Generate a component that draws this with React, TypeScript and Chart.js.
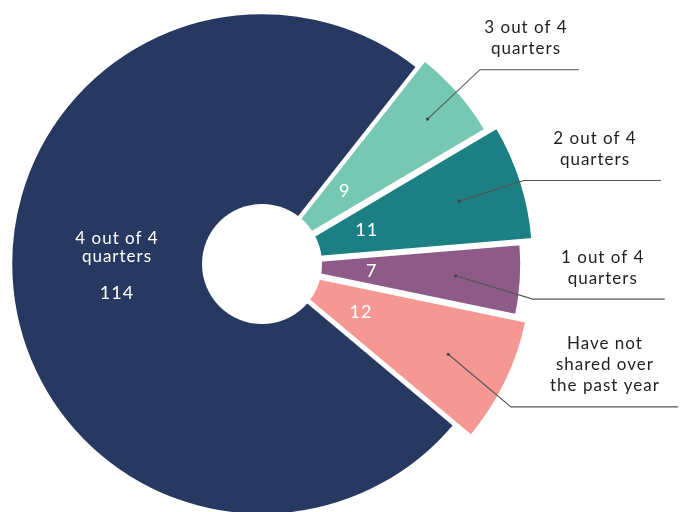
import React, { useEffect, useRef } from "react";
import { Chart, registerables } from "chart.js";

Chart.register(...registerables);

// ---- data ----
const categories = [
  "3 out of 4 quarters",
  "2 out of 4 quarters",
  "1 out of 4 quarters",
  "Have not shared over the past year",
  "4 out of 4 quarters",
];
const labelLines = [
  ["3 out of 4", "quarters"],
  ["2 out of 4", "quarters"],
  ["1 out of 4", "quarters"],
  ["Have not", "shared over", "the past year"],
  ["4 out of 4", "quarters"],
];
const counts = [9, 11, 7, 12, 114];

// ---- styles ----
const sliceColors = ["#76C8B2", "#1C7F84", "#8E5B88", "#F59793", "#273961"];
const sliceGrow = [0, 11, -1.5, 10, 0]; // extra outer radius per slice (px)
const sliceExplode = [10, 10, 10, 10, 0]; // outward shift per slice (px)
const HOLE_R = 60;
const FONT = "Lato, 'Open Sans', sans-serif";
const calloutLayout = [
  { dotR: 220, elbowR: 292, elbowDeg: -0.5, lineLen: 99, textDx: 46 },
  { dotR: 207, elbowR: 275, elbowDeg: 0, lineLen: 137, textDx: 71 },
  { dotR: 194, elbowR: 273, elbowDeg: 3.9, lineLen: 132, textDx: 70 },
  { dotR: 207, elbowR: 287, elbowDeg: 4, lineLen: 167, textDx: 94 },
];

const sliceShape = {
  id: "sliceShape",
  afterDatasetUpdate(chart: any, args: any) {
    const meta = args.meta;
    const ctrl = meta.controller;
    const base = ctrl.outerRadius;
    const ca = chart.chartArea;
    const cx = (ca.left + ca.right) / 2 + (ctrl.offsetX || 0);
    const cy = (ca.top + ca.bottom) / 2 + (ctrl.offsetY || 0);
    (chart as any).$pieCenter = { x: cx, y: cy };
    meta.data.forEach((arc: any, i: number) => {
      const mid = (arc.startAngle + arc.endAngle) / 2;
      const d = sliceExplode[i] || 0;
      arc.x = cx + Math.cos(mid) * d;
      arc.y = cy + Math.sin(mid) * d;
      arc.outerRadius = base + (sliceGrow[i] || 0);
    });
  },
};

const labelsPlugin = {
  id: "sliceLabels",
  afterDatasetsDraw(chart: any) {
    const ctx: CanvasRenderingContext2D = chart.ctx;
    const meta = chart.getDatasetMeta(0);
    const c = (chart as any).$pieCenter;
    ctx.save();
    // hole
    ctx.fillStyle = "#ffffff";
    ctx.beginPath();
    ctx.arc(c.x, c.y, HOLE_R, 0, Math.PI * 2);
    ctx.fill();
    (ctx as any).letterSpacing = "1px";
    meta.data.forEach((arc: any, i: number) => {
      const { startAngle, endAngle } = arc;
      const x = c.x;
      const y = c.y;
      const mid = (startAngle + endAngle) / 2;
      const dir = (r: number, a = mid) => ({ x: x + Math.cos(a) * r, y: y + Math.sin(a) * r });
      ctx.textAlign = "center";
      ctx.textBaseline = "middle";
      if (i < 4) {
        const p = dir(110);
        ctx.fillStyle = "#ffffff";
        ctx.font = `18px ${FONT}`;
        ctx.fillText(String(counts[i]), p.x, p.y);
        const L = calloutLayout[i];
        const d = dir(L.dotR);
        const e = dir(L.elbowR, mid + (L.elbowDeg * Math.PI) / 180);
        ctx.strokeStyle = "#555555";
        ctx.lineWidth = 1.1;
        ctx.beginPath();
        ctx.moveTo(d.x, d.y);
        ctx.lineTo(e.x, e.y);
        ctx.lineTo(e.x + L.lineLen, e.y);
        ctx.stroke();
        ctx.fillStyle = "#444444";
        ctx.beginPath();
        ctx.arc(d.x, d.y, 1.6, 0, Math.PI * 2);
        ctx.fill();
        const lines = labelLines[i];
        ctx.fillStyle = "#1f1f1f";
        ctx.font = `17px ${FONT}`;
        const lh = 21;
        lines.forEach((t, k) => {
          const ty = e.y - 21 - (lines.length - 1 - k) * lh;
          ctx.fillText(t, e.x + L.textDx, ty);
        });
      } else {
        ctx.fillStyle = "#ffffff";
        const lx = x - 145;
        ctx.font = `17px ${FONT}`;
        ctx.fillText(labelLines[i][0], lx, y - 25);
        ctx.fillText(labelLines[i][1], lx, y - 7);
        ctx.font = `18px ${FONT}`;
        ctx.fillText(String(counts[i]), lx, y + 29);
      }
    });
    ctx.restore();
  },
};

export default function App() {
  const ref = useRef<HTMLCanvasElement | null>(null);
  useEffect(() => {
    if (!ref.current) return;
    const chart = new Chart(ref.current, {
      type: "doughnut",
      data: {
        labels: categories,
        datasets: [
          {
            data: counts,
            backgroundColor: sliceColors,
            borderColor: "#ffffff",
            borderWidth: 2.5,
            clip: false as any,
          },
        ],
      },
      options: {
        responsive: false,
        animation: false,
        rotation: 38.2,
        radius: 251,
        cutout: "12%",
        layout: { padding: { left: 0, right: 159, top: 16, bottom: 0 } },
        plugins: {
          legend: { display: false },
          tooltip: { enabled: false },
        },
        events: [],
      } as any,
      plugins: [sliceShape, labelsPlugin],
    });
    return () => chart.destroy();
  }, []);
  return (
    <div style={{ position: "fixed", left: 0, top: 0, width: 683, height: 512, background: "#fff" }}>
      <canvas ref={ref} width={683} height={512} style={{ display: "block" }} />
    </div>
  );
}
